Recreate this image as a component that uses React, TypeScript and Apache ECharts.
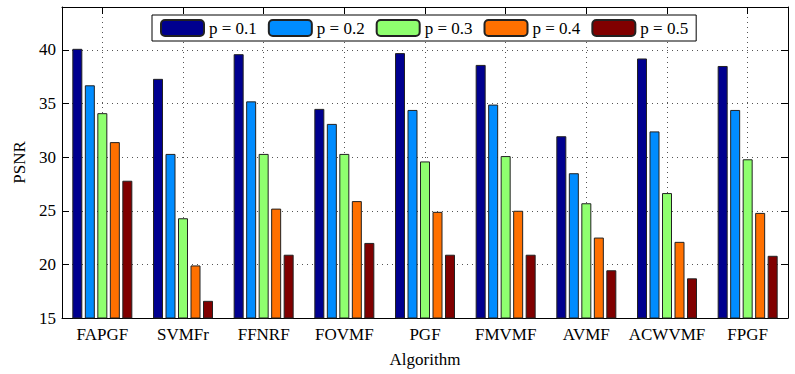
import React, { useEffect, useRef } from "react";
import * as echarts from "echarts";

const categories = ["FAPGF", "SVMFr", "FFNRF", "FOVMF", "PGF", "FMVMF", "AVMF", "ACWVMF", "FPGF"];
const seriesNames = ["p = 0.1", "p = 0.2", "p = 0.3", "p = 0.4", "p = 0.5"];
const p01 = [40.1, 37.3, 39.6, 34.5, 39.7, 38.6, 31.95, 39.2, 38.5];
const p02 = [36.7, 30.3, 35.2, 33.1, 34.4, 34.9, 28.5, 32.4, 34.4];
const p03 = [34.1, 24.3, 30.3, 30.3, 29.6, 30.1, 25.7, 26.65, 29.8];
const p04 = [31.4, 19.9, 25.2, 25.9, 24.9, 25.0, 22.5, 22.1, 24.8];
const p05 = [27.8, 16.6, 20.9, 22.0, 20.9, 20.9, 19.45, 18.7, 20.8];
const seriesValues = [p01, p02, p03, p04, p05];
const colors = ["#00008F", "#008CFF", "#8FFF6F", "#FF7000", "#800000"];
const yMin = 15;
const yMax = 44;
const yInterval = 5;

const FONT = "'Liberation Serif', 'Times New Roman', serif";

export default function App() {
  const ref = useRef<HTMLDivElement>(null);
  useEffect(() => {
    if (!ref.current) return;
    const chart = echarts.init(ref.current, undefined, { renderer: "svg" });
    const tickStyle = { show: true, inside: true, length: 7, alignWithLabel: true, lineStyle: { color: "#000" } };
    chart.setOption({
      animation: false,
      grid: { left: 62, right: 7, top: 7, bottom: 56 },
      legend: {
        data: seriesNames,
        left: 152,
        top: 15,
        orient: "horizontal",
        backgroundColor: "#fff",
        borderColor: "#000",
        borderWidth: 1,
        padding: [4, 8, 4, 8],
        itemGap: 11,
        itemWidth: 43,
        itemHeight: 16,
        textStyle: { fontFamily: FONT, fontSize: 17, color: "#000" },
      },
      xAxis: [
        {
          type: "category",
          data: categories,
          position: "bottom",
          name: "Algorithm",
          nameLocation: "middle",
          nameGap: 33,
          nameTextStyle: { fontFamily: FONT, fontSize: 17, color: "#000" },
          axisLine: { show: true, lineStyle: { color: "#000", width: 1 } },
          axisTick: tickStyle,
          axisLabel: { interval: 0, fontFamily: FONT, fontSize: 17, color: "#000", margin: 8 },
          splitLine: { show: true, alignWithLabel: true, lineStyle: { color: "#555", type: [1, 4] } },
        },
        {
          type: "category",
          data: categories,
          position: "top",
          axisLine: { show: true, lineStyle: { color: "#000", width: 1 } },
          axisTick: tickStyle,
          axisLabel: { show: false },
          splitLine: { show: false },
        },
      ],
      yAxis: [
        {
          type: "value",
          min: yMin,
          max: yMax,
          interval: yInterval,
          position: "left",
          name: "PSNR",
          nameLocation: "middle",
          nameGap: 33,
          nameRotate: 90,
          nameTextStyle: { fontFamily: FONT, fontSize: 17, color: "#000" },
          axisLine: { show: true, lineStyle: { color: "#000", width: 1 } },
          axisTick: { show: true, inside: true, length: 7, lineStyle: { color: "#000" } },
          axisLabel: { fontFamily: FONT, fontSize: 17, color: "#000", margin: 6, showMaxLabel: false },
          splitLine: { show: true, lineStyle: { color: "#555", type: [1, 4] } },
        },
        {
          type: "value",
          min: yMin,
          max: yMax,
          interval: yInterval,
          position: "right",
          axisLine: { show: true, lineStyle: { color: "#000", width: 1 } },
          axisTick: { show: true, inside: true, length: 7, lineStyle: { color: "#000" } },
          axisLabel: { show: false },
          splitLine: { show: false },
        },
      ],
      series: seriesNames.map((name, i) => ({
        name,
        type: "bar",
        data: seriesValues[i],
        xAxisIndex: 0,
        yAxisIndex: 0,
        barWidth: 10,
        barGap: "25%",
        itemStyle: { color: colors[i], borderColor: "#222", borderWidth: 1 },
      })),
    });
    return () => chart.dispose();
  }, []);
  return <div ref={ref} style={{ width: 795, height: 374, position: "absolute", left: 0, top: 0 }} />;
}
